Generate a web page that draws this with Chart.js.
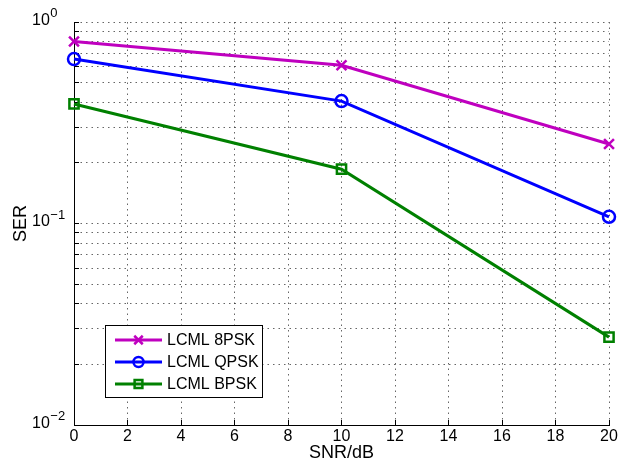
<!DOCTYPE html>
<html>
<head>
<meta charset="utf-8">
<script src="https://cdn.jsdelivr.net/npm/chart.js@4.4.0/dist/chart.umd.min.js"></script>
<style>
    html, body { margin: 0; padding: 0; background: #fff; }
    #wrap { width: 622px; height: 470px; }
</style>
</head>
<body>
<div id="wrap"><canvas id="graph"></canvas></div>
<script>
// SNR points (dB) and symbol error rates per modulation
const snr = [0, 10, 20];
const ser8psk = [0.80, 0.61, 0.248];
const serQpsk = [0.655, 0.405, 0.108];
const serBpsk = [0.392, 0.186, 0.0273];

const seriesNames = ['LCML 8PSK', 'LCML QPSK', 'LCML BPSK'];

// axis ticks
const xTickValues = [0, 2, 4, 6, 8, 10, 12, 14, 16, 18, 20];
const yDecades = [0.01, 0.1, 1];
const yExponents = ['\u22122', '\u22121', '0'];

const FONT = '"Liberation Sans", Arial, Helvetica, sans-serif';

const toPoints = (ys) => snr.map((x, i) => ({ x: x, y: ys[i] }));

// minor grid lines at 1..9 x each decade
const logTicks = () => {
    const out = [];
    for (let d = 0; d < yDecades.length - 1; d++) {
        for (let m = 1; m < 10; m++) out.push({ value: yDecades[d] * m });
    }
    out.push({ value: yDecades[yDecades.length - 1] });
    return out;
};

// "10" with a raised exponent next to each decade, plus the inset legend
const decorations = {
    id: 'decorations',
    afterDraw(chart) {
        const ctx = chart.ctx;
        const y = chart.scales.y;
        ctx.save();
        ctx.fillStyle = '#000';
        ctx.textBaseline = 'middle';
        ctx.textAlign = 'left';
        yDecades.forEach((v, i) => {
            const py = y.getPixelForValue(v);
            ctx.font = '16px ' + FONT;
            ctx.fillText('10', 32, py - 1.5);
            const w = ctx.measureText('10').width;
            ctx.font = '13px ' + FONT;
            ctx.fillText(yExponents[i], 32 + w + 0.5, py - 8.5);
        });

        // legend
        const bx = 105.5, by = 325.5, bw = 157, bh = 72;
        ctx.fillStyle = '#fff';
        ctx.fillRect(bx, by, bw, bh);
        ctx.strokeStyle = '#000';
        ctx.lineWidth = 1;
        ctx.strokeRect(bx, by, bw, bh);
        const rows = [340, 362, 384];
        chart.data.datasets.forEach((ds, i) => {
            const ry = rows[i];
            ctx.strokeStyle = ds.borderColor;
            ctx.lineWidth = ds.borderWidth;
            ctx.beginPath();
            ctx.moveTo(115, ry);
            ctx.lineTo(162, ry);
            ctx.stroke();
            ctx.lineWidth = ds.pointBorderWidth;
            ctx.fillStyle = 'rgba(0,0,0,0)';
            Chart.helpers.drawPoint(ctx, {
                pointStyle: ds.pointStyle,
                radius: ds.pointRadius - 1,
                rotation: 0,
                borderWidth: ds.pointBorderWidth
            }, 138.5, ry);
            ctx.fillStyle = '#000';
            ctx.font = '16px ' + FONT;
            ctx.fillText(ds.label, 167, ry + 0.5);
        });
        ctx.restore();
    }
};

const makeSet = (label, ys, color, style, radius) => ({
    label: label,
    data: toPoints(ys),
    borderColor: color,
    backgroundColor: 'rgba(0,0,0,0)',
    borderWidth: 3,
    pointStyle: style,
    pointRadius: radius,
    pointHoverRadius: radius,
    pointBorderWidth: 2.5,
    pointBackgroundColor: 'rgba(0,0,0,0)',
    pointBorderColor: color,
    tension: 0,
    clip: false
});

const dotted = {
    color: 'rgba(0,0,0,0.6)',
    lineWidth: 1,
    drawTicks: true,
    tickLength: -5,
    tickColor: '#000',
    tickWidth: 1,
    tickBorderDash: []
};

new Chart(document.getElementById('graph'), {
    type: 'line',
    data: {
        datasets: [
            makeSet(seriesNames[0], ser8psk, '#bf00bf', 'crossRot', 7),
            makeSet(seriesNames[1], serQpsk, '#0000ff', 'circle', 6),
            makeSet(seriesNames[2], serBpsk, '#008000', 'rect', 6.5)
        ]
    },
    options: {
        responsive: true,
        maintainAspectRatio: false,
        animation: false,
        events: [],
        layout: { padding: { top: 22, right: 13, left: 0, bottom: 0 } },
        plugins: {
            legend: { display: false },
            tooltip: { enabled: false }
        },
        scales: {
            x: {
                type: 'linear',
                min: 0,
                max: 20,
                afterBuildTicks: (scale) => { scale.ticks = xTickValues.map(v => ({ value: v })); },
                afterFit: (scale) => {
                    scale.height = 45;
                    // keep the edge labels from pushing the plot area inward
                    scale.paddingLeft = 0;
                    scale.paddingRight = 0;
                },
                grid: dotted,
                border: { display: true, color: '#000', width: 1, dash: [1.5, 4] },
                ticks: {
                    color: '#000',
                    font: { family: FONT, size: 16 },
                    padding: 7,
                    maxRotation: 0,
                    autoSkip: false
                },
                title: {
                    display: true,
                    text: 'SNR/dB',
                    color: '#000',
                    font: { family: FONT, size: 18 },
                    padding: { top: 0, bottom: 6 }
                }
            },
            y: {
                type: 'logarithmic',
                min: 0.01,
                max: 1,
                afterBuildTicks: (scale) => { scale.ticks = logTicks(); },
                afterFit: (scale) => {
                    scale.width = 74;
                    scale.paddingTop = 0;
                    scale.paddingBottom = 0;
                },
                grid: dotted,
                border: { display: true, color: '#000', width: 1, dash: [1.5, 4] },
                ticks: { display: false },
                title: {
                    display: true,
                    text: 'SER',
                    color: '#000',
                    font: { family: FONT, size: 18 },
                    padding: { top: 10, bottom: 0 }
                }
            }
        }
    },
    plugins: [decorations]
});
</script>
</body>
</html>
